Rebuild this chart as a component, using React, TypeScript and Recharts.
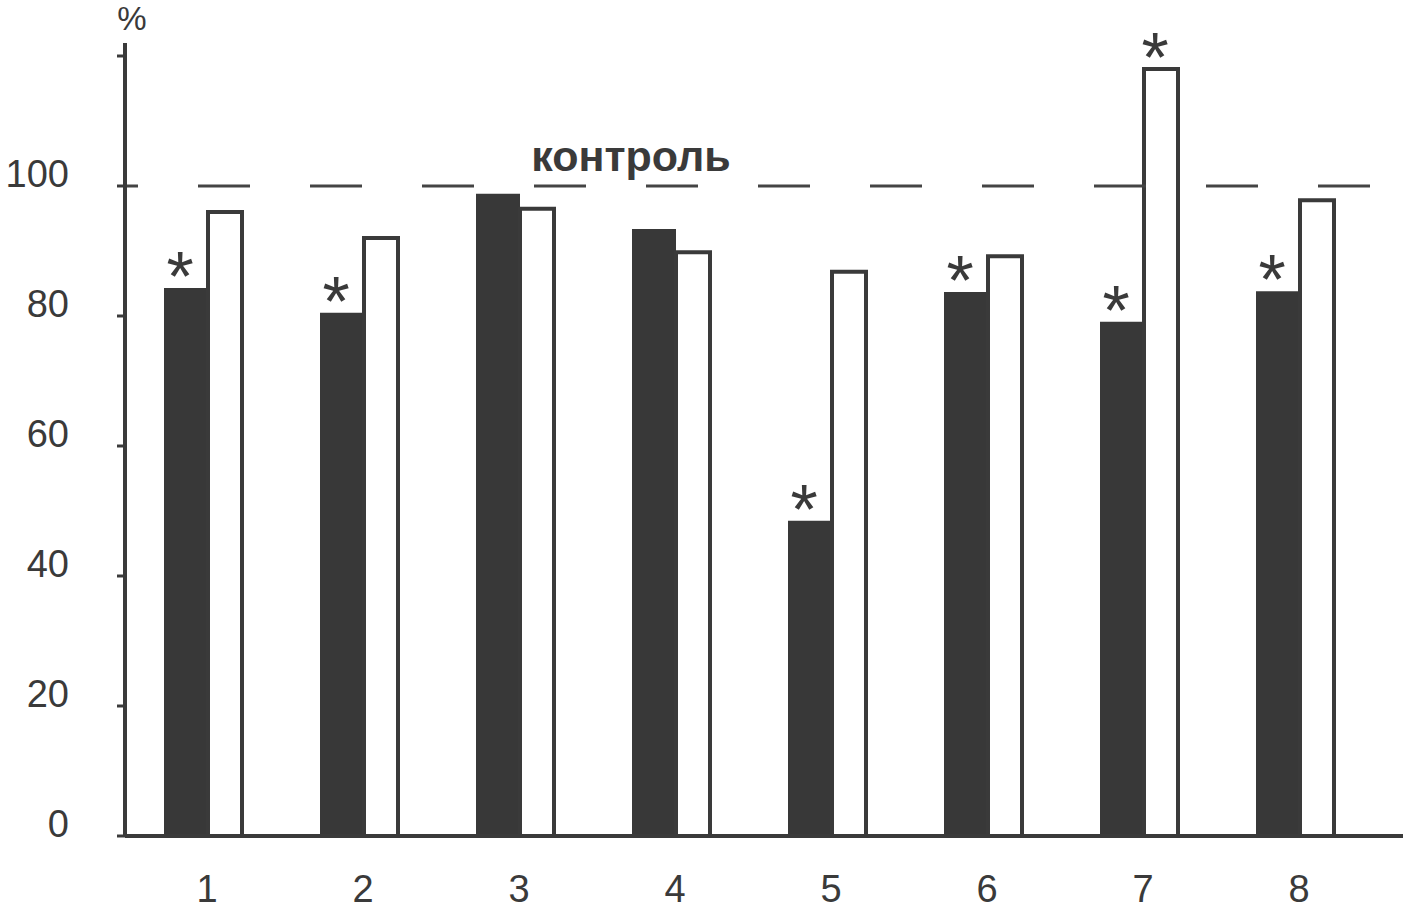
import React from 'react';
import { BarChart, Bar, XAxis, YAxis, ReferenceLine, LabelList } from 'recharts';

const categories = ['1', '2', '3', '4', '5', '6', '7', '8'];
const darkValues = [84.3, 80.5, 98.8, 93.4, 48.5, 83.7, 79.1, 83.8];
const lightValues = [96.0, 92.0, 96.5, 89.8, 86.8, 89.2, 118.0, 97.8];
const darkSignificant = [true, true, false, false, true, true, true, true];
const lightSignificant = [false, false, false, false, false, false, true, false];
const yTicks = [0, 20, 40, 60, 80, 100, 120];
const yTickLabels = ['0', '20', '40', '60', '80', '100', ''];
const controlLevel = 100;
const controlLabel = 'контроль';
const unitLabel = '%';

const data = categories.map((c, i) => ({
  name: c,
  dark: darkValues[i],
  light: lightValues[i],
}));

const INK = '#3a3a3a';
const FONT = '"Liberation Sans", Arial, sans-serif';

const YTick = (props: any) => {
  const { x, y, payload } = props;
  const idx = yTicks.indexOf(payload.value);
  const label = idx >= 0 ? yTickLabels[idx] : '';
  if (!label) return null;
  return (
    <text x={x - 46} y={y - 12} textAnchor="end" dominantBaseline="central" fontSize={38} fill={INK} fontFamily={FONT}>
      {label}
    </text>
  );
};

const XTick = (props: any) => {
  const { x, y, payload } = props;
  return (
    <text x={x + 4} y={y + 53} textAnchor="middle" dominantBaseline="central" fontSize={38} fill={INK} fontFamily={FONT}>
      {payload.value}
    </text>
  );
};

const makeStar = (flags: boolean[]) => (props: any) => {
  const { x, y, width, index } = props;
  if (!flags[index]) return null;
  return (
    <text x={x + width / 2 - 6} y={y + 13} textAnchor="middle" fontSize={70} fill={INK} fontFamily={FONT}>
      *
    </text>
  );
};

const ControlLabel = (props: any) => {
  const vb = props.viewBox || {};
  return (
    <text x={vb.x + vb.width * 0.396} y={vb.y - 30} textAnchor="middle" dominantBaseline="central" fontSize={43} fontWeight="bold" fill={INK} fontFamily={FONT}>
      {controlLabel}
    </text>
  );
};

const UnitLabel = (props: any) => {
  const vb = props.viewBox || {};
  return (
    <text x={vb.x + vb.width + 7} y={vb.y - 13} textAnchor="middle" fontSize={33} fill={INK} fontFamily={FONT}>
      {unitLabel}
    </text>
  );
};

export default function App() {
  return (
    <div style={{ position: 'absolute', left: 0, top: 0, width: 1406, height: 918, background: '#fff' }}>
      <BarChart
        width={1406}
        height={918}
        data={data}
        margin={{ top: 43, right: 3, bottom: 0, left: 0 }}
        barGap={0}
      >
        <XAxis
          dataKey="name"
          height={82}
          padding={{ left: 0, right: 30 }}
          axisLine={{ stroke: INK, strokeWidth: 4 }}
          tickLine={false}
          tickSize={0}
          tickMargin={0}
          tick={<XTick />}
          interval={0}
        />
        <YAxis
          width={125}
          domain={[0, 122]}
          ticks={yTicks}
          allowDataOverflow
          axisLine={{ stroke: INK, strokeWidth: 4 }}
          tickLine={{ stroke: INK, strokeWidth: 3 }}
          tickSize={8}
          tick={<YTick />}
          label={<UnitLabel />}
        />
        <ReferenceLine
          y={controlLevel}
          stroke="#444"
          strokeWidth={3}
          strokeDasharray="52 60"
          strokeDashoffset={39}
          label={<ControlLabel />}
        />
        <Bar dataKey="dark" barSize={44} fill="#383838" isAnimationActive={false}>
          <LabelList dataKey="dark" content={makeStar(darkSignificant)} />
        </Bar>
        <Bar dataKey="light" barSize={34} fill="#ffffff" stroke={INK} strokeWidth={4} isAnimationActive={false}>
          <LabelList dataKey="light" content={makeStar(lightSignificant)} />
        </Bar>
      </BarChart>
    </div>
  );
}
